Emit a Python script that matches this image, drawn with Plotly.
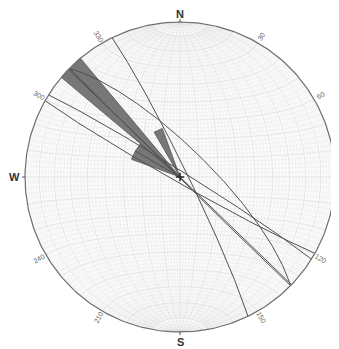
import numpy as np
import plotly.graph_objects as go

# ---------------- data ----------------
# planes (right-hand-rule strike, dip)
plane_strike = [334.0, 302.0, 119.5, 314.0, 134.5, 314.5]
plane_dip = [86.0, 87.0, 87.0, 90.0, 89.5, 75.0]

# rose diagram of strikes (bin start, counts)
rose_bin_start = [290, 300, 310, 330]
rose_bin_width = 10
rose_counts = [1, 1, 3, 1]

# outer labels (E lies outside the visible picture in the reference)
tick_deg = [30, 60, 120, 150, 210, 240, 300, 330]
tick_text = ["30", "60", "120", "150", "210", "240", "300", "330"]
cardinal_tick_deg = [0, 90, 180, 270]
cardinal_deg = [0, 180, 270]
cardinal_text = ["N", "S", "W"]

# ---------------- helpers ----------------
def proj(E, N, D):
    # lower-hemisphere equal-area (Schmidt) projection, unit primitive circle
    s = 1.0 / np.sqrt(1.0 + D)
    return E * s, N * s

def great_circle(strike, dip):
    dd = np.radians(strike + 90.0)
    st = np.radians(strike)
    d = np.radians(dip)
    a = np.radians(np.linspace(0, 180, 181))
    sv = np.array([np.sin(st), np.cos(st), 0.0])
    dv = np.array([np.cos(d) * np.sin(dd), np.cos(d) * np.cos(dd), np.sin(d)])
    E = np.cos(a) * sv[0] + np.sin(a) * dv[0]
    N = np.cos(a) * sv[1] + np.sin(a) * dv[1]
    D = np.clip(np.cos(a) * sv[2] + np.sin(a) * dv[2], 0, 1)
    return proj(E, N, D)

def net_point(lam, phi):
    lam = np.radians(lam)
    phi = np.radians(phi)
    E = np.cos(phi) * np.sin(lam)
    N = np.sin(phi)
    D = np.cos(phi) * np.cos(lam)
    return proj(E, N, D)

fig = go.Figure()

# background disc
t = np.radians(np.linspace(0, 360, 361))
fig.add_trace(go.Scatter(x=np.sin(t), y=np.cos(t), mode="lines", fill="toself",
                         fillcolor="#fbfbfb", line=dict(color="rgba(0,0,0,0)", width=0),
                         hoverinfo="skip", showlegend=False))

# net grid
minor_x, minor_y, major_x, major_y = [], [], [], []
for v in range(-88, 89, 2):
    if v == 0:
        continue
    major = (v % 10 == 0)
    lim = 90 if major else 80
    phis = np.linspace(-lim, lim, 91)
    x, y = net_point(np.full_like(phis, v, dtype=float), phis)
    tx, ty = (major_x, major_y) if major else (minor_x, minor_y)
    tx += list(x) + [None]
    ty += list(y) + [None]
    lams = np.linspace(-90, 90, 91)
    x, y = net_point(lams, np.full_like(lams, v, dtype=float))
    tx += list(x) + [None]
    ty += list(y) + [None]
major_x += [0, 0, None, -1, 1, None]
major_y += [-1, 1, None, 0, 0, None]
fig.add_trace(go.Scatter(x=minor_x, y=minor_y, mode="lines",
                         line=dict(color="#e8e8e8", width=0.5),
                         hoverinfo="skip", showlegend=False))
fig.add_trace(go.Scatter(x=major_x, y=major_y, mode="lines",
                         line=dict(color="#d9d9d9", width=0.6),
                         hoverinfo="skip", showlegend=False))

# rose petals
maxc = max(rose_counts)
px, py = [], []
for b, c in zip(rose_bin_start, rose_counts):
    r = c / maxc
    ang = np.radians(np.linspace(b, b + rose_bin_width, 11))
    px += [0] + list(r * np.sin(ang)) + [0, None]
    py += [0] + list(r * np.cos(ang)) + [0, None]
fig.add_trace(go.Scatter(x=px, y=py, mode="lines", fill="toself",
                         fillcolor="#777777", line=dict(color="#555555", width=0.8),
                         hoverinfo="skip", showlegend=False))

# great circles
for s, d in zip(plane_strike, plane_dip):
    x, y = great_circle(s, d)
    fig.add_trace(go.Scatter(x=x, y=y, mode="lines",
                             line=dict(color="#505050", width=1.0),
                             hoverinfo="skip", showlegend=False))

# primitive circle
fig.add_trace(go.Scatter(x=np.sin(t), y=np.cos(t), mode="lines",
                         line=dict(color="#6e6e6e", width=1.2),
                         hoverinfo="skip", showlegend=False))

# cardinal ticks
cx, cy = [], []
for a in cardinal_tick_deg:
    ar = np.radians(a)
    cx += [np.sin(ar), 1.02 * np.sin(ar), None]
    cy += [np.cos(ar), 1.02 * np.cos(ar), None]
fig.add_trace(go.Scatter(x=cx, y=cy, mode="lines",
                         line=dict(color="#555", width=1),
                         hoverinfo="skip", showlegend=False))

# center mark
fig.add_trace(go.Scatter(x=[0], y=[0], mode="markers",
                         marker=dict(symbol="cross-thin", size=6,
                                     line=dict(color="#222", width=1.5)),
                         hoverinfo="skip", showlegend=False))

annotations = []
for a, txt in zip(tick_deg, tick_text):
    ar = np.radians(a)
    ang = a - 90 if a < 180 else a - 270
    annotations.append(dict(x=1.048 * np.sin(ar), y=1.048 * np.cos(ar), text=txt,
                            showarrow=False, textangle=ang, xanchor="center", yanchor="middle",
                            font=dict(family="Liberation Sans, Arial", size=7, color="#666")))
for a, txt in zip(cardinal_deg, cardinal_text):
    ar = np.radians(a)
    rr = 1.053 if a == 0 else 1.065
    annotations.append(dict(x=rr * np.sin(ar), y=rr * np.cos(ar), text="<b>" + txt + "</b>",
                            showarrow=False, xanchor="center", yanchor="middle",
                            font=dict(family="Liberation Sans, Arial", size=11, color="#333")))

# page body has an 8px default margin; ranges put the centre at (180,177) on screen
fig.update_layout(
    width=339, height=349,
    margin=dict(l=0, r=0, t=0, b=0),
    paper_bgcolor="white", plot_bgcolor="white",
    xaxis=dict(range=[-1.1097, 1.0774], visible=False, fixedrange=True),
    yaxis=dict(range=[-1.1613, 1.0903], visible=False, fixedrange=True),
    annotations=annotations,
    showlegend=False,
)

fig.write_html("out.html")
